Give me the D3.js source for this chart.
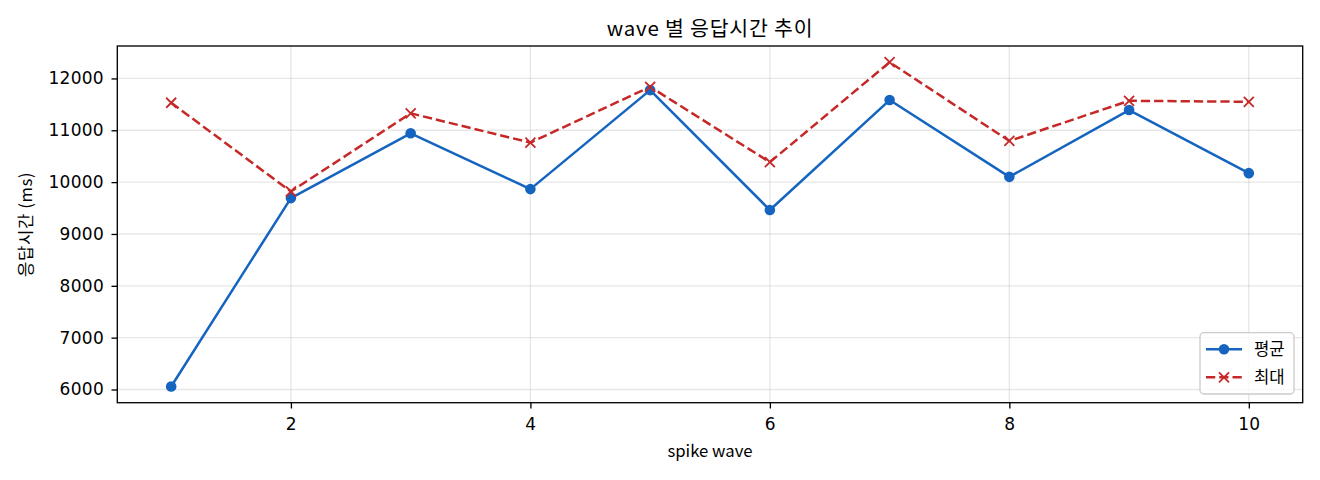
<!DOCTYPE html>
<html><head><meta charset="utf-8">
<script src="https://cdn.jsdelivr.net/npm/d3@7/dist/d3.min.js"></script>
<style>
html,body{margin:0;padding:0;background:#fff;}
svg{display:block;font-family:"Noto Sans CJK KR","Noto Sans",sans-serif;}
</style></head>
<body>
<svg id="chart" width="1320" height="480"></svg>
<script>
const waves = [1,2,3,4,5,6,7,8,9,10];
const meanValues = [6058,9692,10942,9865,11775,9462,11583,10102,11390,10173];
const maxValues  = [11531,9819,11327,10762,11838,10385,12313,10794,11569,11550];
const xTicks = [2,4,6,8,10];
const yTicks = [6000,7000,8000,9000,10000,11000,12000];
const seriesNames = ["평균","최대"];
const titleText = "wave 별 응답시간 추이";
const xLabel = "spike wave";
const yLabel = "응답시간 (ms)";

const svg = d3.select("#chart");
const m = {left:117.3, right:1302.7, top:46, bottom:402.7};
const blue = "#1565C0", red = "#C62828";
const LW = 2.5;
const DASH = "9.25,4";

const allV = meanValues.concat(maxValues);
const yMin = d3.min(allV), yMax = d3.max(allV), yPad = (yMax-yMin)*0.05;
const x = d3.scaleLinear().domain([1-0.45, 10+0.45]).range([m.left, m.right]);
const y = d3.scaleLinear().domain([yMin-yPad, yMax+yPad]).range([m.bottom, m.top]);

// grid
const g = svg.append("g");
g.selectAll(".gy").data(yTicks).join("line")
  .attr("x1",m.left).attr("x2",m.right)
  .attr("y1",d=>y(d)).attr("y2",d=>y(d))
  .attr("stroke","#b0b0b0").attr("stroke-opacity",0.3).attr("stroke-width",1.33);
g.selectAll(".gx").data(xTicks).join("line")
  .attr("y1",m.top).attr("y2",m.bottom)
  .attr("x1",d=>x(d)).attr("x2",d=>x(d))
  .attr("stroke","#b0b0b0").attr("stroke-opacity",0.3).attr("stroke-width",1.33);

// axes
const tickFont = "'DejaVu Sans','Noto Sans CJK KR',sans-serif";
const xAxis = d3.axisBottom(x).tickValues(xTicks).tickSize(5.8).tickPadding(9).tickFormat(d3.format("d"));
const yAxis = d3.axisLeft(y).tickValues(yTicks).tickSize(5.8).tickPadding(7.5).tickFormat(d3.format("d"));
const gx = svg.append("g").attr("transform",`translate(0,${m.bottom})`).call(xAxis);
const gy = svg.append("g").attr("transform",`translate(${m.left},0)`).call(yAxis);
[gx,gy].forEach(a=>{
  a.select(".domain").remove();
  a.selectAll(".tick line").attr("stroke","#000").attr("stroke-width",1.33);
  a.selectAll(".tick text").attr("fill","#000").style("font-size","17px")
    .style("letter-spacing","0.3px").style("font-family",tickFont);
});
gx.selectAll(".tick text").attr("dy","0.71em");

// frame
svg.append("rect").attr("x",m.left).attr("y",m.top)
  .attr("width",m.right-m.left).attr("height",m.bottom-m.top)
  .attr("fill","none").attr("stroke","#000").attr("stroke-width",1.33);

// lines
const line = d3.line().x((d,i)=>x(waves[i])).y(d=>y(d));
svg.append("path").datum(meanValues).attr("d",line)
  .attr("fill","none").attr("stroke",blue).attr("stroke-width",LW).attr("stroke-linejoin","round");
svg.append("path").datum(maxValues).attr("d",line)
  .attr("fill","none").attr("stroke",red).attr("stroke-width",LW).attr("stroke-dasharray",DASH);

svg.append("g").selectAll("circle").data(meanValues).join("circle")
  .attr("cx",(d,i)=>x(waves[i])).attr("cy",d=>y(d)).attr("r",5.3).attr("fill",blue);

const xs = 5;
svg.append("g").selectAll("path").data(maxValues).join("path")
  .attr("d",(d,i)=>{const cx=x(waves[i]), cy=y(d);
    return `M${cx-xs},${cy-xs}L${cx+xs},${cy+xs}M${cx-xs},${cy+xs}L${cx+xs},${cy-xs}`;})
  .attr("stroke",red).attr("stroke-width",1.8).attr("fill","none");

// title & labels
svg.append("text").attr("x",(m.left+m.right)/2).attr("y",36).attr("text-anchor","middle")
  .style("font-size","20.5px").style("letter-spacing","0.8px").attr("fill","#000").text(titleText);
svg.append("text").attr("x",(m.left+m.right)/2).attr("y",457).attr("text-anchor","middle")
  .style("font-size","16.7px").attr("fill","#000").text(xLabel);
svg.append("text").attr("transform",`translate(32,${(m.top+m.bottom)/2}) rotate(-90)`)
  .attr("text-anchor","middle").style("font-size","16.7px").style("letter-spacing","0.6px")
  .attr("fill","#000").text(yLabel);

// legend
const lg = svg.append("g");
lg.append("rect").attr("x",1200).attr("y",332.7).attr("width",94).attr("height",61.3)
  .attr("rx",4).attr("fill","#fff").attr("fill-opacity",0.8).attr("stroke","#cccccc").attr("stroke-width",1.33);
const rows = [349.3, 377.3];
lg.append("line").attr("x1",1206).attr("x2",1242).attr("y1",rows[0]).attr("y2",rows[0])
  .attr("stroke",blue).attr("stroke-width",LW);
lg.append("circle").attr("cx",1224).attr("cy",rows[0]).attr("r",5.3).attr("fill",blue);
lg.append("line").attr("x1",1206).attr("x2",1242).attr("y1",rows[1]).attr("y2",rows[1])
  .attr("stroke",red).attr("stroke-width",LW).attr("stroke-dasharray",DASH);
lg.append("path").attr("d",`M${1224-xs},${rows[1]-xs}L${1224+xs},${rows[1]+xs}M${1224-xs},${rows[1]+xs}L${1224+xs},${rows[1]-xs}`)
  .attr("stroke",red).attr("stroke-width",1.8);
lg.selectAll("text.l").data(seriesNames).join("text")
  .attr("x",1254).attr("y",(d,i)=>rows[i]).attr("dy","0.36em")
  .style("font-size","16.7px").attr("fill","#000").text(d=>d);
</script>
</body></html>
